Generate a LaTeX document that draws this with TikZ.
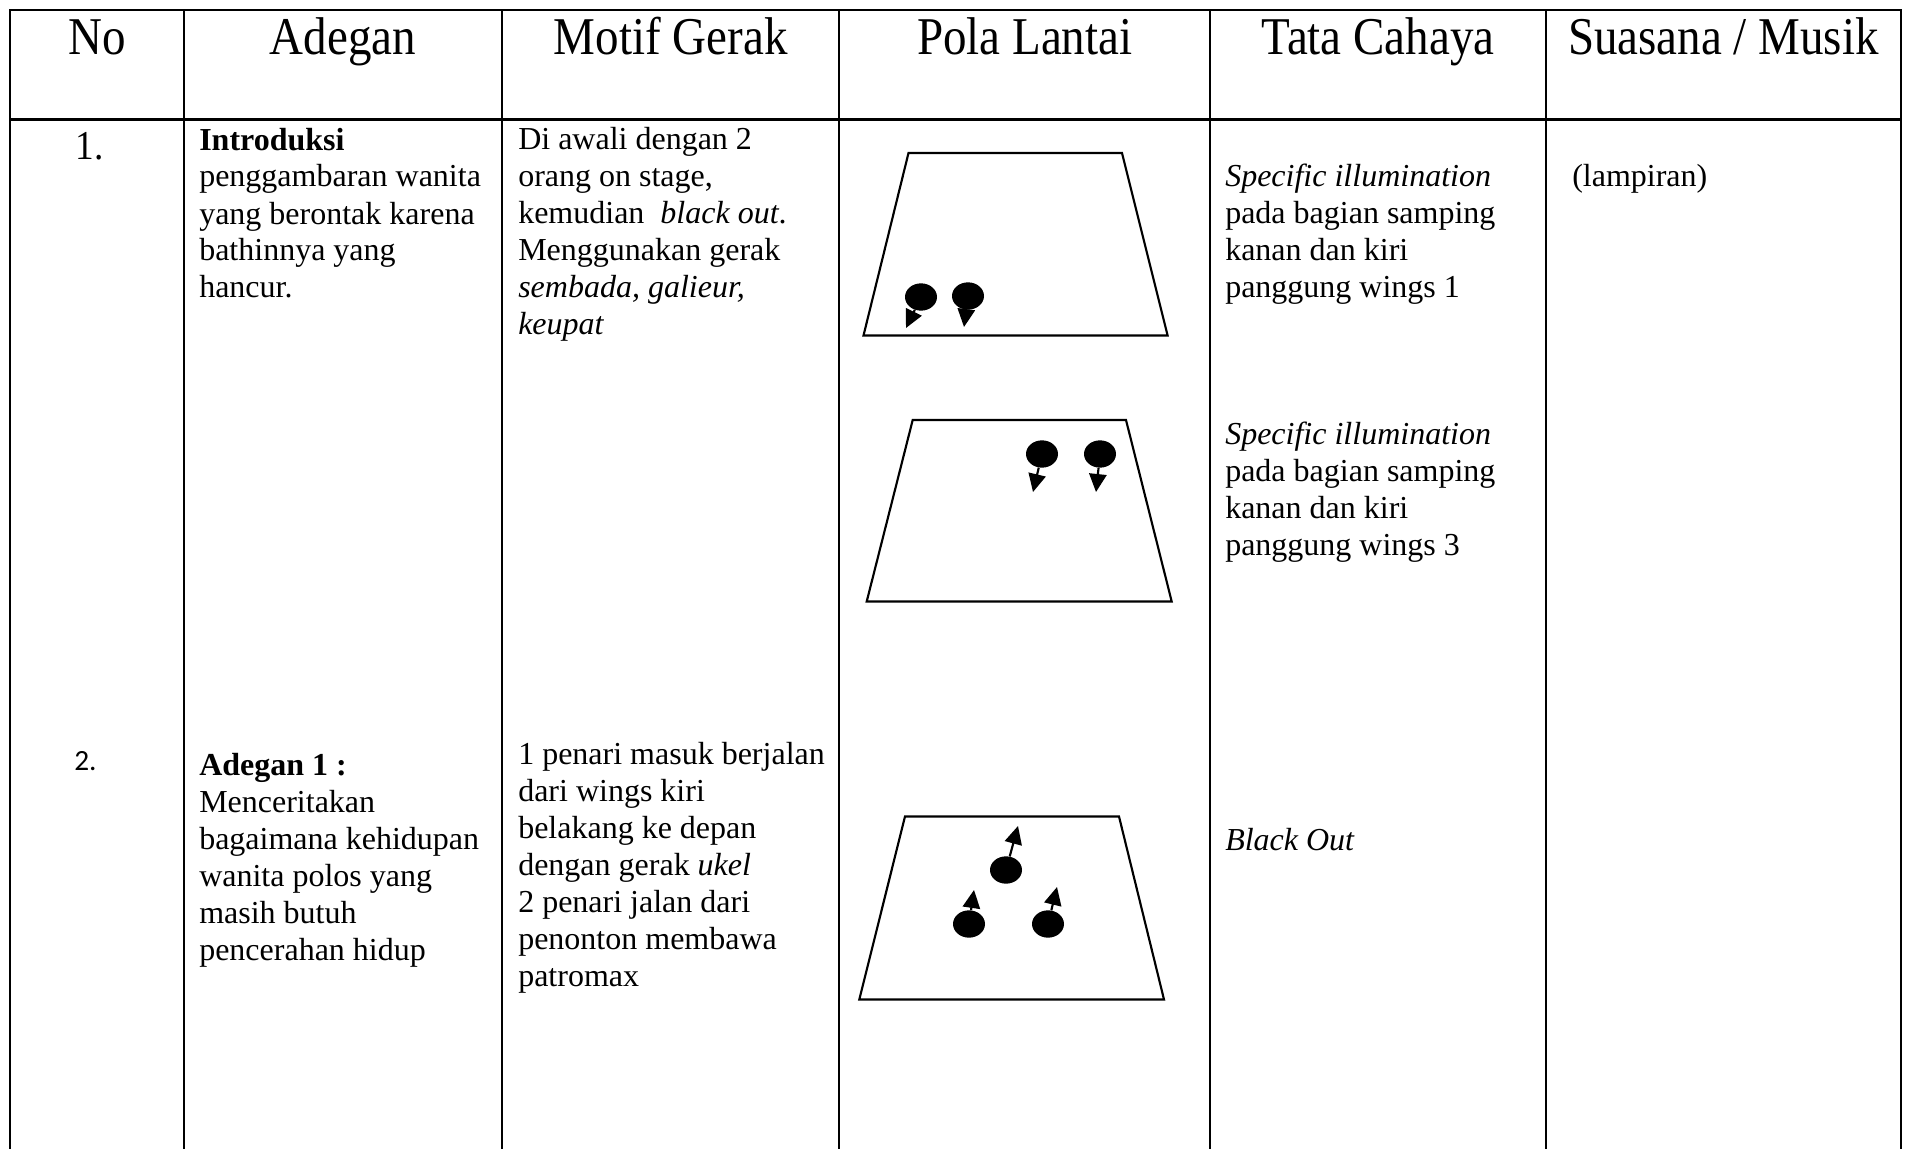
\documentclass[tikz,border=0pt]{standalone}
\usepackage{fontspec}
\setmainfont{Liberation Serif}
\newfontfamily\numfont{Carlito}
\usepackage{graphicx}
\usetikzlibrary{shapes.geometric,arrows.meta}

% one table cell: lines broken by hand, first baseline is the node baseline
\newcommand\cellbox[1]{\parbox[t]{600pt}{\raggedright #1}}
\newcommand\tallhead[1]{\scalebox{1}[1.13]{#1}}

\begin{document}
\begin{tikzpicture}[x=0.75pt,y=-0.75pt,
  grid/.style={line width=1.6pt, line cap=rect},
  hdr/.style={anchor=base, inner sep=0pt, font=\fontsize{35.25pt}{40pt}\selectfont},
  cell/.style={anchor=base west, inner sep=0pt, font=\fontsize{24pt}{27.75pt}\selectfont},
  stage/.style={line width=1.6pt, line join=miter},
  dancer/.style={ellipse, fill=black, draw=none, inner sep=0pt,
                 minimum width=24pt, minimum height=20.5pt},
  facing/.style={line width=1.6pt, -{Triangle[length=13.5pt,width=13pt]}}
]
\useasboundingbox (0,0) rectangle (1907,1149);

% table rules
\draw[grid] (10,10) -- (1901,10);
\draw[grid] (10,119.5) -- (1901,119.5);
\foreach \x in {10,183.6,502.3,839.2,1210.1,1545.8,1901}
  \draw[grid] (\x,10) -- (\x,1149);

% header row
\node[hdr] (hNo)    at (96.8,55)   {\tallhead{No}};
\node[hdr] (hAdeg)  at (343,55)    {\tallhead{Adegan}};
\node[hdr] (hMotif) at (670.8,55)  {\tallhead{Motif Gerak}};
\node[hdr] (hPola)  at (1024.7,55) {\tallhead{Pola Lantai}};
\node[hdr] (hTata)  at (1378,55)   {\tallhead{Tata Cahaya}};
\node[hdr] (hSuas)  at (1723.4,55) {\tallhead{Suasana / Musik}};

% row 1
\node[cell] (n1) at (75.5,159) {\fontsize{28pt}{30pt}\selectfont\scalebox{1}[1.1]{1.}};
\node[cell] (a1) at (199,150) {\cellbox{\textbf{Introduksi}\\penggambaran wanita\\yang berontak karena\\bathinnya yang\\hancur.}};
\node[cell] (m1) at (518,149.5) {\cellbox{Di awali dengan 2\\orang on stage,\\kemudian\ \ \textit{black out}.\\Menggunakan gerak\\\textit{sembada, galieur,}\\\textit{keupat}}};
\node[cell] (t1) at (1225,186) {\cellbox{\textit{Specific illumination}\\pada bagian samping\\kanan dan kiri\\panggung wings 1}};
\node[cell] (t2) at (1225,444) {\cellbox{\textit{Specific illumination}\\pada bagian samping\\kanan dan kiri\\panggung wings 3}};
\node[cell] (s1) at (1572,186) {(lampiran)};

% row 2
\node[cell] (n2) at (74,770) {\numfont\fontsize{22pt}{24pt}\selectfont 2.};
\node[cell] (a2) at (199,775) {\cellbox{\textbf{Adegan 1 :}\\Menceritakan\\bagaimana kehidupan\\wanita polos yang\\masih butuh\\pencerahan hidup}};
\node[cell] (m2) at (518,764) {\cellbox{1 penari masuk berjalan\\dari wings kiri\\belakang ke depan\\dengan gerak \textit{ukel}\\2 penari jalan dari\\penonton membawa\\patromax}};
\node[cell] (t3) at (1225,850) {\textit{Black Out}};

% floor plans (stage outlines)
\draw[stage] (908.5,153) -- (1122,153) -- (1167.6,335.5) -- (863.5,335.5) -- cycle;
\draw[stage] (912.7,420) -- (1126,420) -- (1171.7,601.5) -- (866.7,601.5) -- cycle;
\draw[stage] (905,816.5) -- (1119,816.5) -- (1164,999.5) -- (859.3,999.5) -- cycle;

% dancers and the way they face
\node[dancer] (d1) at (921,297) {};
\node[dancer] (d2) at (968,296) {};
\coordinate (d1f) at (906,328);
\coordinate (d2f) at (964,327);
\draw[facing] (d1) -- (d1f);
\draw[facing] (d2) -- (d2f);

\node[dancer] (d3) at (1042,454) {};
\node[dancer] (d4) at (1100,454) {};
\coordinate (d3f) at (1033,492);
\coordinate (d4f) at (1096,492);
\draw[facing] (d3) -- (d3f);
\draw[facing] (d4) -- (d4f);

\node[dancer] (d5) at (1006,870) {};
\node[dancer] (d6) at (969,924) {};
\node[dancer] (d7) at (1048,924) {};
\coordinate (d5f) at (1018,826);
\coordinate (d6f) at (974,890);
\coordinate (d7f) at (1057,887);
\draw[facing] (d5) -- (d5f);
\draw[facing] (d6) -- (d6f);
\draw[facing] (d7) -- (d7f);
\end{tikzpicture}
\end{document}
